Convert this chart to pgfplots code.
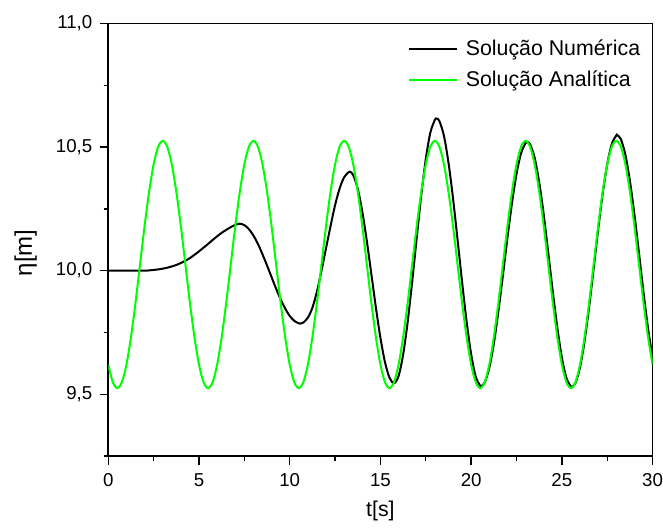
\documentclass[border=0pt]{standalone}
\usepackage{fontspec}
\setmainfont{Liberation Sans}
\usepackage{pgfplots}
\pgfplotsset{compat=1.18}
\definecolor{lime}{RGB}{0,255,0}
\begin{document}
\begin{tikzpicture}
\useasboundingbox (-81.2pt,-53.25pt) rectangle (416pt,342.05pt);
\begin{axis}[
  scale only axis,
  width=408.2pt, height=324.5pt,
  xmin=0, xmax=30, ymin=9.25, ymax=11,
  xtick={0,5,...,30},
  minor xtick={2.5,7.5,12.5,17.5,22.5,27.5},
  ytick={9.5,10,10.5,11},
  minor ytick={9.25,9.75,10.25,10.75},
  xtick pos=left, ytick pos=left,
  xtick align=outside, ytick align=outside,
  major tick length=6.5pt, minor tick length=3.5pt,
  every tick/.style={black, line width=1pt},
  axis line style={line width=1.2pt},
  /pgf/number format/assume math mode=true,
  yticklabel style={/pgf/number format/.cd, fixed, fixed zerofill, precision=1, use comma, /tikz/.cd, xshift=-2pt},
  xticklabel style={yshift=-3pt},
  ticklabel style={font=\fontsize{14}{16}\selectfont},
  xlabel={t[s]}, ylabel={η[m]},
  label style={font=\fontsize{16}{18}\selectfont},
  xlabel style={at={(axis description cs:0.5,0)}, anchor=center, yshift=-41pt},
  ylabel style={at={(axis description cs:0,0.47)}, anchor=center, yshift=62pt, font=\fontsize{18}{20}\selectfont},
  legend style={draw=none, fill=none, at={(rel axis cs:0.985,0.972)}, anchor=north east,
    font=\fontsize{16}{18}\selectfont, row sep=6pt, inner sep=1pt},
  legend cell align=left,
  legend image code/.code={\draw[#1, line width=1.5pt] (0pt,0pt) -- (36pt,0pt); \path (40pt,0pt);},
]
\addplot[black, line width=1.5pt, smooth] coordinates {
(0,10.000) (0.5,10.000) (1,10.000) (1.5,10.000) (1.75,10.000) (2,10.000)
(2.25,10.001) (2.5,10.003) (2.75,10.005) (3,10.008) (3.25,10.012) (3.5,10.017)
(3.75,10.023) (4,10.031) (4.25,10.040) (4.5,10.051) (4.75,10.064) (5,10.078)
(5.25,10.093) (5.5,10.108) (5.75,10.124) (6,10.139) (6.25,10.153) (6.5,10.165)
(6.75,10.176) (7,10.185) (7.25,10.190) (7.5,10.184) (7.75,10.168) (8,10.142)
(8.25,10.108) (8.5,10.066) (8.75,10.021) (9,9.974) (9.25,9.927) (9.5,9.884)
(9.75,9.847) (10,9.817) (10.25,9.797) (10.5,9.787) (10.6,9.786) (10.75,9.790)
(11,9.810) (11.25,9.850) (11.5,9.915) (11.75,10.000) (12,10.090) (12.25,10.180)
(12.5,10.265) (12.75,10.332) (13,10.378) (13.3,10.400) (13.5,10.386) (13.75,10.331)
(14,10.239) (14.25,10.120) (14.5,9.986) (14.75,9.851) (15,9.728) (15.25,9.630)
(15.5,9.567) (15.75,9.545) (16,9.574) (16.25,9.660) (16.5,9.792) (16.75,9.956)
(17,10.133) (17.25,10.305) (17.5,10.452) (17.75,10.558) (18,10.610) (18.1,10.615)
(18.25,10.605) (18.5,10.545) (18.75,10.437) (19,10.293) (19.25,10.126) (19.5,9.954)
(19.75,9.794) (20,9.662) (20.25,9.572) (20.5,9.534) (20.55,9.533) (20.75,9.548)
(21,9.607) (21.25,9.705) (21.5,9.835) (21.75,9.981) (22,10.133) (22.25,10.273)
(22.5,10.391) (22.75,10.475) (23,10.516) (23.1,10.520) (23.25,10.511) (23.5,10.456)
(23.75,10.357) (24,10.226) (24.25,10.072) (24.5,9.915) (24.75,9.769) (25,9.648)
(25.25,9.566) (25.5,9.531) (25.55,9.530) (25.75,9.546) (26,9.609) (26.25,9.715)
(26.5,9.852) (26.75,10.007) (27,10.166) (27.25,10.312) (27.5,10.431) (27.75,10.512)
(28,10.547) (28.05,10.548) (28.25,10.532) (28.5,10.469) (28.75,10.363) (29,10.226)
(29.25,10.071) (29.5,9.912) (29.75,9.766) (30,9.647)
};
\addlegendentry{Solução Numérica}
\addplot[lime, line width=1.5pt, smooth] coordinates {
(0,9.620) (0.25,9.549) (0.5,9.525) (0.75,9.549) (1,9.620) (1.25,9.731) (1.5,9.870) (1.75,10.025) (2,10.180) (2.25,10.319)
(2.5,10.430) (2.75,10.501) (3,10.525) (3.25,10.501) (3.5,10.430) (3.75,10.319) (4,10.180) (4.25,10.025) (4.5,9.870) (4.75,9.731)
(5,9.620) (5.25,9.549) (5.5,9.525) (5.75,9.549) (6,9.620) (6.25,9.731) (6.5,9.870) (6.75,10.025) (7,10.180) (7.25,10.319)
(7.5,10.430) (7.75,10.501) (8,10.525) (8.25,10.501) (8.5,10.430) (8.75,10.319) (9,10.180) (9.25,10.025) (9.5,9.870) (9.75,9.731)
(10,9.620) (10.25,9.549) (10.5,9.525) (10.75,9.549) (11,9.620) (11.25,9.731) (11.5,9.870) (11.75,10.025) (12,10.180) (12.25,10.319)
(12.5,10.430) (12.75,10.501) (13,10.525) (13.25,10.501) (13.5,10.430) (13.75,10.319) (14,10.180) (14.25,10.025) (14.5,9.870) (14.75,9.731)
(15,9.620) (15.25,9.549) (15.5,9.525) (15.75,9.549) (16,9.620) (16.25,9.731) (16.5,9.870) (16.75,10.025) (17,10.180) (17.25,10.319)
(17.5,10.430) (17.75,10.501) (18,10.525) (18.25,10.501) (18.5,10.430) (18.75,10.319) (19,10.180) (19.25,10.025) (19.5,9.870) (19.75,9.731)
(20,9.620) (20.25,9.549) (20.5,9.525) (20.75,9.549) (21,9.620) (21.25,9.731) (21.5,9.870) (21.75,10.025) (22,10.180) (22.25,10.319)
(22.5,10.430) (22.75,10.501) (23,10.525) (23.25,10.501) (23.5,10.430) (23.75,10.319) (24,10.180) (24.25,10.025) (24.5,9.870) (24.75,9.731)
(25,9.620) (25.25,9.549) (25.5,9.525) (25.75,9.549) (26,9.620) (26.25,9.731) (26.5,9.870) (26.75,10.025) (27,10.180) (27.25,10.319)
(27.5,10.430) (27.75,10.501) (28,10.525) (28.25,10.501) (28.5,10.430) (28.75,10.319) (29,10.180) (29.25,10.025) (29.5,9.870) (29.75,9.731)
(30,9.620)
};
\addlegendentry{Solução Analítica}
\end{axis}
\end{tikzpicture}
\end{document}
